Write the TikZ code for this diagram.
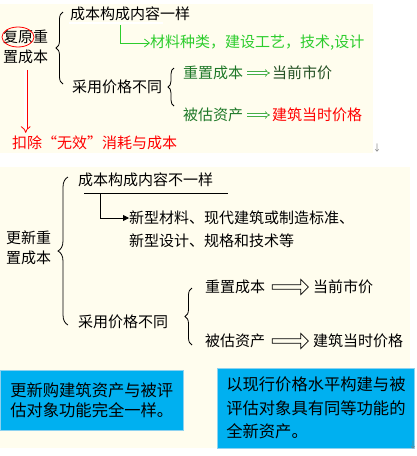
\documentclass[tikz,border=0pt]{standalone}
\usepackage{fontspec}
\setmainfont{Noto Sans CJK SC}
\newfontfamily\fwquote[RawFeature=+fwid]{Noto Sans CJK SC}
\usepackage{xcolor}
\usetikzlibrary{arrows.meta,decorations.pathreplacing,shapes.arrows,shapes.geometric,calc}

\definecolor{cream}{RGB}{255,253,238}
\definecolor{brgreen}{RGB}{45,205,45}
\definecolor{dkgreen}{RGB}{30,120,40}
\definecolor{dkgreen2}{RGB}{35,80,35}
\definecolor{argreen}{RGB}{70,175,70}
\definecolor{boxblue}{RGB}{0,176,240}
\definecolor{boxline}{RGB}{140,210,240}

\tikzset{
  txt/.style={inner sep=0pt, anchor=west, font=\fontsize{15}{19.5}\selectfont},
  curly/.style={decorate, decoration={brace, amplitude=#1}, line width=0.8pt},
  curly/.default=6pt,
  dblarrow/.style={argreen, double, double distance=1.8pt, line width=0.7pt, -{Implies}},
  hollow/.style={single arrow, draw, line width=0.7pt, minimum height=36pt,
    minimum width=15pt, single arrow head extend=4.5pt, inner sep=1.5pt},
  bluebox/.style={fill=boxblue, draw=boxline, line width=0.6pt, anchor=north west,
    align=left, inner xsep=9pt, inner ysep=0pt},
  retmark/.style={inner sep=0pt, text=gray, font=\fontsize{9}{9}\selectfont}
}

\begin{document}
\begin{tikzpicture}[x=1pt,y=-1pt]
\useasboundingbox (0,0) rectangle (416,456);
% cream panels
\fill[cream] (0,4) rectangle (373,153);
\fill[cream] (0,167) rectangle (410,448);

% ---- upper panel
\node[txt, align=left] (fy) at (3,47) {复原重\\置成本};
\node[draw=red, ellipse, line width=0.8pt, minimum width=32pt, minimum height=20pt, inner sep=0pt] (ring) at (18,37) {};
\draw[curly=7pt] (63,84) -- (63,12);
\node[txt] (cb1) at (70,14) {成本构成内容一样};
% double underline
\draw[brgreen, double, double distance=1.4pt, line width=0.7pt] (69,23) -- (163,23);
\node[txt, text=brgreen] (cl) at (150,43) {材料种类，建设工艺，技术,设计};
\coordinate (gl) at (120,25);
\draw[brgreen, line width=0.8pt, -{Straight Barb[length=5pt,width=8pt]}] (gl) |- (cl.west);

\node[txt] (cy1) at (72,87) {采用价格不同};
\draw[curly] (174,106) -- (174,68);
\node[txt, text=dkgreen] (rc1) at (183,73) {重置成本};
\node[txt, text=dkgreen2] (dq1) at (272,73) {当前市价};
\draw[dblarrow, shorten <=4pt, shorten >=2pt] (rc1) -- (dq1);
\node[txt, text=dkgreen] (bg1) at (183,115) {被估资产};
\node[txt, text=red] (jz1) at (272,115) {建筑当时价格};
\draw[dblarrow, shorten <=4pt, shorten >=2pt] (bg1) -- (jz1);

% deduction
\node[txt, text=red] (kc) at (12,143) {扣除{\fwquote “}无效{\fwquote ”}消耗与成本};
\draw[red, double, double distance=2.6pt, line width=0.8pt, -{Implies}, shorten >=3pt] ([yshift=-6pt]fy.south) -- (fy.south |- kc.north);
\node[retmark] (rm1) at (377,148) {↓};

% ---- lower panel
\node[txt, align=left] (gx) at (6,248) {更新重\\置成本};
\draw[curly=10pt] (68,325) -- (68,177);
\node[txt] (cb2) at (78,180) {成本构成内容不一样};
\draw[line width=0.8pt] (84,193) -- (228,193);
\coordinate (ul) at (100,193);
\node[txt] (xs1) at (129,218) {新型材料、现代建筑或制造标准、};
\node[txt] (xs2) at (129,241) {新型设计、规格和技术等};
\draw[line width=0.8pt, -{Triangle[length=6pt,width=6pt]}] (ul) |- (xs1.west);

\node[txt] (cy2) at (78,322) {采用价格不同};
\draw[curly=7pt] (192,345) -- (192,288);
\node[txt] (rc2) at (205,287) {重置成本};
\node[txt] (dq2) at (313,287) {当前市价};
\node[hollow] (ha1) at ($(rc2.east)!0.5!(dq2.west)$) {};
\node[txt] (bg2) at (205,341) {被估资产};
\node[txt] (jz2) at (313,341) {建筑当时价格};
\node[hollow] (ha2) at ($(bg2.east)!0.5!(jz2.west)$) {};

% blue notes
\node[bluebox, minimum width=183pt, minimum height=60pt, font=\fontsize{16.3}{20.5}\selectfont] (nb1) at (0,370) {更新购建筑资产与被评\\估对象功能完全一样。};
\node[bluebox, minimum width=193pt, minimum height=80pt, font=\fontsize{16.3}{23.5}\selectfont] (nb2) at (217,368) {以现行价格水平构建与被\\评估对象具有同等功能的\\全新资产。};
\node[retmark] (rm2) at (413,445) {↓};
\end{tikzpicture}
\end{document}
